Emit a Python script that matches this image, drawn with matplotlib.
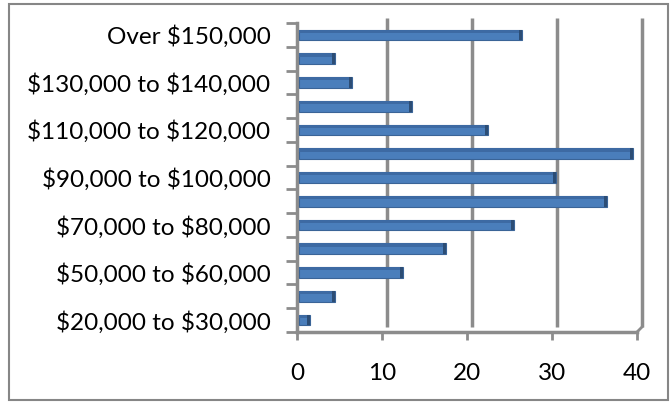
import matplotlib.pyplot as plt
import matplotlib.transforms as mtransforms
from matplotlib.patches import Rectangle

plt.rcParams['font.family'] = ['Lato', 'DejaVu Sans']
plt.rcParams['text.parse_math'] = False  # labels contain "$"

# income brackets, bottom to top
categories = ["$20,000 to $30,000", "$30,000 to $50,000", "$50,000 to $60,000",
              "$60,000 to $70,000", "$70,000 to $80,000", "$80,000 to $90,000",
              "$90,000 to $100,000", "$100,000 to $110,000", "$110,000 to $120,000",
              "$120,000 to $130,000", "$130,000 to $140,000", "$140,000 to $150,000",
              "Over $150,000"]
values = [1.3, 4.3, 12.3, 17.3, 25.3, 36.3, 30.3, 39.3, 22.3, 13.3, 6.3, 4.3, 26.3]
xticks = [0, 10, 20, 30, 40]

W, H = 670, 404
fig = plt.figure(figsize=(W / 100, H / 100), dpi=100)
ax = fig.add_axes([297 / W, 1 - 332 / H, 340 / W, 309 / H])

grey = '#8c8c8c'
depth = 5  # 3d offset of the back wall, in pixels
back = mtransforms.offset_copy(ax.transData, fig, x=depth, y=depth, units='dots')

# back gridlines and their little floor diagonals
for x in xticks[1:]:
    ax.plot([x, x], [-0.5, 12.5], color=grey, lw=2.5, transform=back,
            clip_on=False, zorder=1, solid_capstyle='butt')
    p0 = ax.transData.transform((x, -0.5))
    p1 = p0 + depth
    ax.plot([p0[0], p1[0]], [p0[1], p1[1]], color=grey, lw=2, transform=None,
            clip_on=False, zorder=1)

# left wall corner
p0 = ax.transData.transform((0, 12.5))
ax.plot([p0[0], p0[0] + depth], [p0[1], p0[1] + depth], color=grey, lw=2,
        transform=None, clip_on=False)

y = list(range(len(categories)))
h = 0.45
ax.barh(y, values, height=h, left=0.2, color='#4a7ebb', edgecolor='#3a6497',
        linewidth=0.8, zorder=3)
# darker top strip and end caps for the 3d look
ax.barh([v + h * 0.35 for v in y], values, height=h * 0.3, left=0.2,
        color='#3d6aa3', linewidth=0, zorder=4)
ax.barh(y, [0.35] * len(values), height=h, left=[v - 0.15 for v in values],
        color='#2c4d75', linewidth=0, zorder=5)

ax.set_xlim(0, 40)
ax.set_ylim(-0.5, 12.5)
ax.set_xticks(xticks)
ax.set_xticklabels([str(t) for t in xticks], fontsize=17.5)
ax.set_yticks(y)
ax.set_yticklabels([c if i % 2 == 0 else "" for i, c in enumerate(categories)],
                   fontsize=17.5)
ax.set_yticks([i - 0.5 for i in range(len(categories) + 1)], minor=True)
ax.tick_params(axis='y', which='major', length=0, pad=19)
ax.tick_params(axis='y', which='minor', length=8, width=2, color=grey)
ax.tick_params(axis='x', length=6, width=2, color=grey, pad=16)

for s in ['top', 'right']:
    ax.spines[s].set_visible(False)
for s in ['left', 'bottom']:
    ax.spines[s].set_color(grey)
    ax.spines[s].set_linewidth(2.5)

# right floor corner
p0 = ax.transData.transform((40, -0.5))
ax.plot([p0[0], p0[0] + depth], [p0[1], p0[1] + depth], color=grey, lw=2,
        transform=None, clip_on=False)

# chart border
fig.patches.append(Rectangle((9 / W, 4 / H), 659 / W, 396 / H, transform=fig.transFigure,
                             fill=False, edgecolor='#868686', lw=1.5))

fig.savefig('out.png', dpi=100)
